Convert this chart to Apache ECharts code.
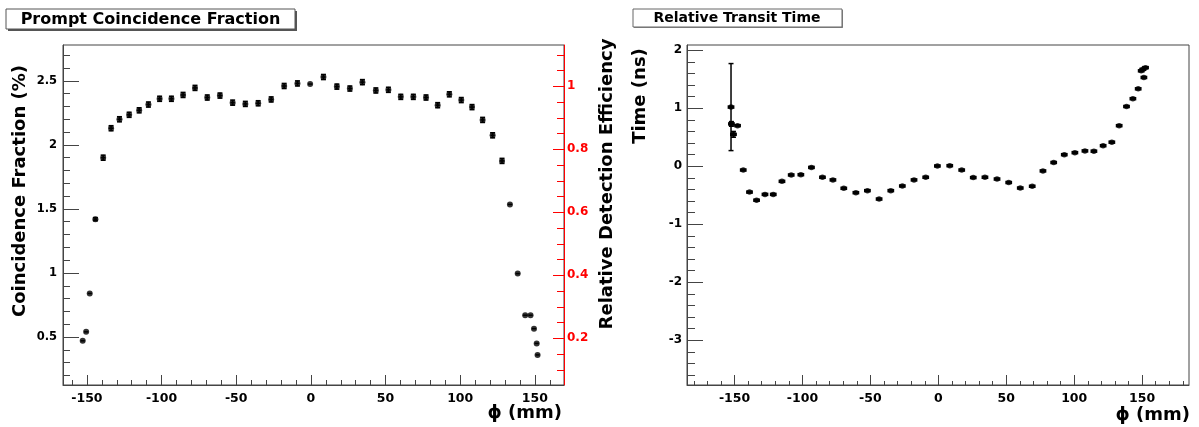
<!DOCTYPE html>
<html><head><meta charset="utf-8">
<script src="https://cdn.jsdelivr.net/npm/echarts@6/dist/echarts.min.js"></script>
<style>html,body{margin:0;padding:0;background:#fff}#c{width:1199px;height:427px}</style>
</head><body><div id="c"></div>
<script>
// ---- Left panel: Prompt Coincidence Fraction ----
const phiL = [-152.8,-150.5,-148.1,-144.3,-139.1,-133.8,-128.2,-121.7,-115.0,-108.8,-101.3,-93.4,-85.6,-77.6,-69.4,-60.9,-52.4,-43.9,-35.3,-26.6,-17.9,-9.0,-0.5,8.4,17.4,26.1,34.5,43.5,51.9,60.2,68.6,77.1,84.9,92.7,100.7,107.9,115.0,121.7,128.0,133.3,138.5,143.5,147.1,149.4,151.2,151.8];
const fracL = [0.47,0.54,0.84,1.42,1.90,2.13,2.20,2.235,2.27,2.315,2.36,2.36,2.39,2.445,2.37,2.385,2.33,2.32,2.325,2.355,2.46,2.48,2.475,2.53,2.455,2.44,2.49,2.425,2.43,2.375,2.375,2.37,2.31,2.395,2.35,2.295,2.195,2.075,1.875,1.535,0.995,0.67,0.67,0.565,0.45,0.36];
const errL = [0,0,0,0.012,0.02,0.02,0.02,0.02,0.02,0.02,0.02,0.02,0.02,0.02,0.02,0.02,0.02,0.02,0.02,0.02,0.02,0.02,0,0.02,0.02,0.02,0.02,0.02,0.02,0.02,0.02,0.02,0.02,0.02,0.02,0.02,0.02,0.02,0.02,0,0,0,0,0,0,0];
const xErrL = 1.4;

// ---- Right panel: Relative Transit Time ----
const phiR = [-152.6,-152.3,-150.8,-147.8,-143.6,-139.0,-133.8,-127.6,-121.5,-115.1,-108.3,-101.2,-93.4,-85.3,-77.6,-69.6,-60.7,-52.2,-43.6,-35.0,-26.5,-17.9,-9.3,-0.7,8.4,17.2,25.7,34.3,43.2,51.8,60.3,69.1,77.0,84.9,92.7,100.5,107.9,114.5,121.3,127.7,133.1,138.5,143.2,147.1,149.3,150.5,151.3,152.5];
const timeR = [1.02,0.73,0.55,0.70,-0.065,-0.445,-0.585,-0.485,-0.485,-0.26,-0.15,-0.145,-0.02,-0.19,-0.235,-0.38,-0.455,-0.42,-0.565,-0.42,-0.34,-0.235,-0.19,0.005,0.01,-0.065,-0.195,-0.19,-0.22,-0.28,-0.375,-0.345,-0.08,0.065,0.20,0.235,0.265,0.26,0.355,0.415,0.70,1.03,1.165,1.335,1.645,1.67,1.53,1.70];
const errR = [0.75,0.04,0.05,0,0,0,0,0,0,0,0,0,0,0,0,0,0,0,0,0,0,0,0,0,0,0,0,0,0,0,0,0,0,0,0,0,0,0,0,0,0,0,0,0,0,0,0,0];
const xErrR = 2.5;

// ---- Axis ranges and ticks ----
const xRangeL = [-166, 169.5];
const yRangeL = [0.125, 2.78];
const yRangeRed = [0.052, 1.131];
const xRangeR = [-185, 184.5];
const yRangeR = [-3.77, 2.09];
const xMajor = [-150,-100,-50,0,50,100,150];
const xMinorL = [-160,-140,-130,-120,-110,-90,-80,-70,-60,-40,-30,-20,-10,10,20,30,40,60,70,80,90,110,120,130,140,160];
const xMinorR = [-180,-170,-160,-140,-130,-120,-110,-90,-80,-70,-60,-40,-30,-20,-10,10,20,30,40,60,70,80,90,110,120,130,140,160,170,180];
const yMajorL = [0.5,1,1.5,2,2.5];
const yMinorL = [0.2,0.3,0.4,0.6,0.7,0.8,0.9,1.1,1.2,1.3,1.4,1.6,1.7,1.8,1.9,2.1,2.2,2.3,2.4,2.6,2.7];
const yMajorRed = [0.2,0.4,0.6,0.8,1];
const yMinorRed = [0.1,0.15,0.25,0.3,0.35,0.45,0.5,0.55,0.65,0.7,0.75,0.85,0.9,0.95,1.05,1.1];
const yMajorR = [-3,-2,-1,0,1,2];
const yMinorR = [-3.6,-3.4,-3.2,-2.8,-2.6,-2.4,-2.2,-1.8,-1.6,-1.4,-1.2,-0.8,-0.6,-0.4,-0.2,0.2,0.4,0.6,0.8,1.2,1.4,1.6,1.8];

const FONT = '"DejaVu Sans", sans-serif';
const AX = '#444';

function axis(opts) {
  return {
    type: 'value', gridIndex: opts.grid, min: opts.range[0], max: opts.range[1],
    position: opts.pos,
    axisLine: { show: opts.line !== false, onZero: false, lineStyle: { color: opts.color || AX, width: 1 } },
    axisTick: { show: true, inside: true, length: opts.len, customValues: opts.ticks, lineStyle: { color: opts.color || AX, width: 1 } },
    axisLabel: opts.labels ? { show: true, customValues: opts.ticks, color: opts.labelColor || '#000', fontFamily: FONT, fontWeight: 'bold', fontSize: opts.fs, margin: opts.margin } : { show: false },
    splitLine: { show: false },
    minorTick: { show: false },
    z: 5
  };
}

function errRender(xErr, xw, yw) {
  return function (params, api) {
    const x = api.value(0), y = api.value(1), ey = api.value(2);
    const c = api.coord([x, y]);
    const l = api.coord([x - xErr, y]), r = api.coord([x + xErr, y]);
    const st = { stroke: '#000', lineWidth: xw };
    const ch = [{ type: 'line', shape: { x1: l[0], y1: c[1], x2: r[0], y2: c[1] }, style: st }];
    if (ey > 0) {
      const t = api.coord([x, y + ey]), b = api.coord([x, y - ey]);
      const vs = { stroke: '#000', lineWidth: yw };
      ch.push({ type: 'line', shape: { x1: c[0], y1: t[1], x2: c[0], y2: b[1] }, style: vs });
      ch.push({ type: 'line', shape: { x1: c[0] - 2.5, y1: t[1], x2: c[0] + 2.5, y2: t[1] }, style: vs });
      ch.push({ type: 'line', shape: { x1: c[0] - 2.5, y1: b[1], x2: c[0] + 2.5, y2: b[1] }, style: vs });
    }
    return { type: 'group', children: ch };
  };
}

const dataL = phiL.map((p, i) => [p, fracL[i], errL[i]]);
const dataR = phiR.map((p, i) => [p, timeR[i], errR[i]]);

const chart = echarts.init(document.getElementById('c'), null, { renderer: 'canvas' });
chart.setOption({
  animation: false,
  backgroundColor: '#fff',
  grid: [
    { left: 63, top: 45, width: 501, height: 340, show: true, borderColor: AX, borderWidth: 1, backgroundColor: 'transparent' },
    { left: 687, top: 45, width: 502, height: 340, show: true, borderColor: AX, borderWidth: 1, backgroundColor: 'transparent' }
  ],
  xAxis: [
    axis({ grid: 0, range: xRangeL, pos: 'bottom', len: 10, ticks: xMajor, labels: true, fs: 12.5, margin: 7 }),
    axis({ grid: 0, range: xRangeL, pos: 'bottom', len: 5, ticks: xMinorL, line: false }),
    axis({ grid: 1, range: xRangeR, pos: 'bottom', len: 10, ticks: xMajor, labels: true, fs: 12.5, margin: 7 }),
    axis({ grid: 1, range: xRangeR, pos: 'bottom', len: 4, ticks: xMinorR, line: false })
  ],
  yAxis: [
    axis({ grid: 0, range: yRangeL, pos: 'left', len: 16, ticks: yMajorL, labels: true, fs: 11.5, margin: 6 }),
    axis({ grid: 0, range: yRangeL, pos: 'left', len: 7, ticks: yMinorL, line: false }),
    axis({ grid: 0, range: yRangeRed, pos: 'right', len: 11, ticks: yMajorRed, labels: true, fs: 12, margin: 3, color: '#ff0000', labelColor: '#ff0000' }),
    axis({ grid: 0, range: yRangeRed, pos: 'right', len: 7, ticks: yMinorRed, line: false, color: '#ff0000' }),
    axis({ grid: 1, range: yRangeR, pos: 'left', len: 16, ticks: yMajorR, labels: true, fs: 12, margin: 5 }),
    axis({ grid: 1, range: yRangeR, pos: 'left', len: 8, ticks: yMinorR, line: false })
  ],
  series: [
    { type: 'custom', xAxisIndex: 0, yAxisIndex: 0, data: dataL, encode: { x: 0, y: 1 }, renderItem: errRender(xErrL, 1.5, 1.5), z: 3 },
    { type: 'scatter', xAxisIndex: 0, yAxisIndex: 0, data: dataL, symbol: 'circle', symbolSize: 6, itemStyle: { color: '#000' }, z: 4 },
    { type: 'custom', xAxisIndex: 2, yAxisIndex: 4, data: dataR, encode: { x: 0, y: 1 }, renderItem: errRender(xErrR, 3.5, 1.5), z: 3 },
    { type: 'scatter', xAxisIndex: 2, yAxisIndex: 4, data: dataR, symbol: 'circle', symbolSize: 5.5, itemStyle: { color: '#000' }, z: 4 }
  ],
  graphic: [
    { type: 'rect', shape: { x: 8, y: 11, width: 289, height: 20 }, style: { fill: '#555' } },
    { type: 'rect', shape: { x: 6, y: 9, width: 289, height: 20 }, style: { fill: '#fff', stroke: '#555', lineWidth: 1 } },
    { type: 'text', x: 150.5, y: 19.5, style: { text: 'Prompt Coincidence Fraction', font: 'bold 16px ' + FONT, fill: '#000', align: 'center', verticalAlign: 'middle', textAlign: 'center', textVerticalAlign: 'middle' } },
    { type: 'rect', shape: { x: 634, y: 10, width: 209, height: 18 }, style: { fill: '#888' } },
    { type: 'rect', shape: { x: 633, y: 9, width: 209, height: 18 }, style: { fill: '#fff', stroke: '#666', lineWidth: 1 } },
    { type: 'text', x: 737, y: 18, style: { text: 'Relative Transit Time', font: 'bold 14px ' + FONT, fill: '#000', align: 'center', verticalAlign: 'middle', textAlign: 'center', textVerticalAlign: 'middle' } },
    { type: 'text', x: 20, y: 191, rotation: Math.PI / 2, style: { text: 'Coincidence Fraction (%)', font: 'bold 18px ' + FONT, fill: '#000', align: 'center', verticalAlign: 'middle', textAlign: 'center', textVerticalAlign: 'middle' } },
    { type: 'text', x: 607, y: 184, rotation: Math.PI / 2, style: { text: 'Relative Detection Efficiency', font: 'bold 18px ' + FONT, fill: '#000', align: 'center', verticalAlign: 'middle', textAlign: 'center', textVerticalAlign: 'middle' } },
    { type: 'text', x: 640, y: 96, rotation: Math.PI / 2, style: { text: 'Time (ns)', font: 'bold 18px ' + FONT, fill: '#000', align: 'center', verticalAlign: 'middle', textAlign: 'center', textVerticalAlign: 'middle' } },
    { type: 'text', x: 562, y: 413, style: { text: 'ϕ (mm)', font: 'bold 18px ' + FONT, fill: '#000', align: 'right', verticalAlign: 'middle', textAlign: 'right', textVerticalAlign: 'middle' } },
    { type: 'text', x: 1190, y: 415, style: { text: 'ϕ (mm)', font: 'bold 18px ' + FONT, fill: '#000', align: 'right', verticalAlign: 'middle', textAlign: 'right', textVerticalAlign: 'middle' } }
  ]
});
</script>
</body></html>
